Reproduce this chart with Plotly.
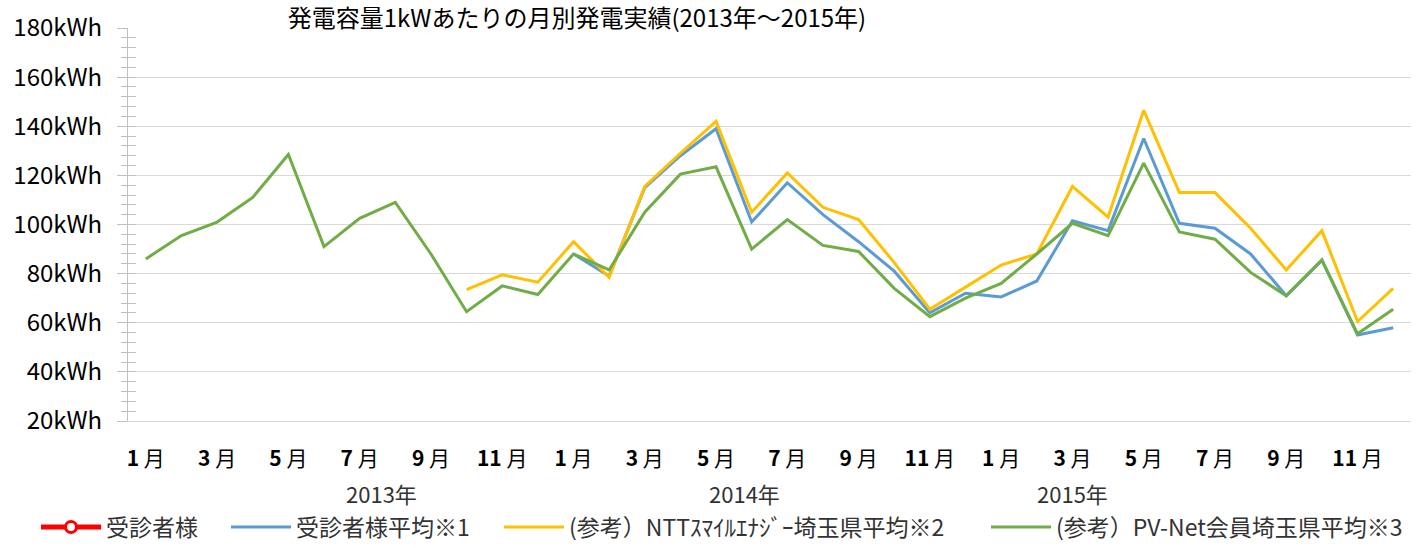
import plotly.graph_objects as go

# ---- data ----
months = list(range(36))  # 2013-01 .. 2015-12
tick_idx = list(range(0, 36, 2))
month_labels = ["1", "3", "5", "7", "9", "11"] * 3
tick_text = ["<b>%s</b> 月" % m for m in month_labels]
years = ["2013年", "2014年", "2015年"]
year_pos = [6.6, 16.8, 26.0]

patient = [None] * 36  # 受診者様 (no data shown)

patient_avg = [None] * 12 + [
    88, 79, 115, 128, 139, 101, 117, 104, 93, 81, 64, 72,
    70.5, 77, 101.5, 97.5, 135, 100.5, 98.5, 88, 71, 85.5, 55, 58,
]

ntt_avg = [None] * 9 + [
    73.5, 79.5, 76.5,
    93, 78.5, 115.5, 129, 142, 105, 121, 107, 102, 84.5, 65.5, 74.5,
    83.5, 88, 115.5, 103, 146.5, 113, 113, 98.5, 81.5, 97.5, 60.5, 74,
]

pvnet_avg = [
    86, 95.5, 101, 111, 128.5, 91, 102.5, 109, 88, 64.5, 75, 71.5,
    88, 81.5, 105, 120.5, 123.5, 90, 102, 91.5, 89, 74, 62.5, 70,
    76, 88, 100.5, 95.5, 125, 97, 94, 80.5, 71, 85.5, 55.5, 65.5,
]

names = [
    "受診者様",
    "受診者様平均※1",
    "(参考）NTTｽﾏｲﾙｴﾅｼﾞｰ埼玉県平均※2",
    "(参考）PV-Net会員埼玉県平均※3",
]
colors = ["#FF0000", "#5B9BD5", "#FFC000", "#70AD47"]

FONT = "Noto Sans CJK JP"

fig = go.Figure()

fig.add_trace(go.Scatter(
    x=months, y=patient, name=names[0], mode="lines+markers",
    line=dict(color=colors[0], width=5),
    marker=dict(symbol="circle", size=11, color="white",
                line=dict(color=colors[0], width=3)),
    legend="legend",
))
fig.add_trace(go.Scatter(
    x=months, y=patient_avg, name=names[1], mode="lines",
    line=dict(color=colors[1], width=3), legend="legend2",
))
fig.add_trace(go.Scatter(
    x=months, y=ntt_avg, name=names[2], mode="lines",
    line=dict(color=colors[2], width=3), legend="legend3",
))
fig.add_trace(go.Scatter(
    x=months, y=pvnet_avg, name=names[3], mode="lines",
    line=dict(color=colors[3], width=3), legend="legend4",
))
# helper trace so the overlaid tick axis is drawn
fig.add_trace(go.Scatter(x=[None], y=[None], yaxis="y2", showlegend=False,
                         hoverinfo="skip"))

W, H = 1419, 548
L, R, T, B = 128, 8, 21, 127

legend_common = dict(
    orientation="h", xref="container", yref="container",
    yanchor="middle", xanchor="left", y=1 - 527 / H,
    font=dict(family=FONT, size=23, color="#333333"),
    bgcolor="rgba(0,0,0,0)", itemwidth=60, tracegroupgap=0,
)

fig.update_layout(
    width=W, height=H,
    margin=dict(l=L, r=R, t=T, b=B),
    paper_bgcolor="white", plot_bgcolor="white",
    font=dict(family=FONT, color="#262626"),
    title=dict(
        text="発電容量1kWあたりの月別発電実績(2013年～2015年)",
        x=577 / W, xanchor="center", xref="container",
        y=1 - 19 / H, yanchor="middle", yref="container",
        font=dict(family=FONT, size=24, color="#000000"),
    ),
    xaxis=dict(
        range=[-0.5, 35.5], tickmode="array", tickvals=tick_idx,
        ticktext=tick_text, ticks="", showgrid=False, zeroline=False,
        showline=True, linecolor="#d9d9d9", linewidth=1,
        tickfont=dict(family=FONT, size=21, color="#000000"),
        ticklabelstandoff=19,
    ),
    yaxis=dict(
        range=[20, 180], tickmode="linear", tick0=20, dtick=20,
        ticksuffix="kWh", showgrid=True, gridcolor="#d9d9d9", gridwidth=1,
        zeroline=False, showline=True, linecolor="#bfbfbf", linewidth=1,
        ticks="outside", ticklen=10, tickcolor="#bfbfbf",
        minor=dict(dtick=4, tick0=20, ticks="outside", ticklen=6,
                   tickcolor="#bfbfbf", showgrid=False),
        tickfont=dict(family=FONT, size=24, color="#000000"),
        ticklabelstandoff=10,
    ),
    yaxis2=dict(
        range=[20, 180], overlaying="y", side="left", tickmode="linear",
        tick0=20, dtick=20, showticklabels=False, showgrid=False,
        zeroline=False, showline=False, ticks="inside", ticklen=8,
        tickcolor="#bfbfbf",
        minor=dict(dtick=4, tick0=20, ticks="inside", ticklen=8,
                   tickcolor="#bfbfbf", showgrid=False),
    ),
    legend=dict(legend_common, x=36 / W),
    legend2=dict(legend_common, x=226 / W),
    legend3=dict(legend_common, x=499 / W),
    legend4=dict(legend_common, x=986 / W),
    showlegend=True,
)

for label, pos in zip(years, year_pos):
    fig.add_annotation(
        x=pos, xref="x", y=0, yref="paper", yshift=-72,
        yanchor="middle", xanchor="center", showarrow=False, text=label,
        font=dict(family=FONT, size=22, color="#333333"),
    )

fig.write_html("out.html",
               config={"displayModeBar": False},
               post_script="document.body.style.margin='0';"
                           "document.body.style.overflow='hidden';")
